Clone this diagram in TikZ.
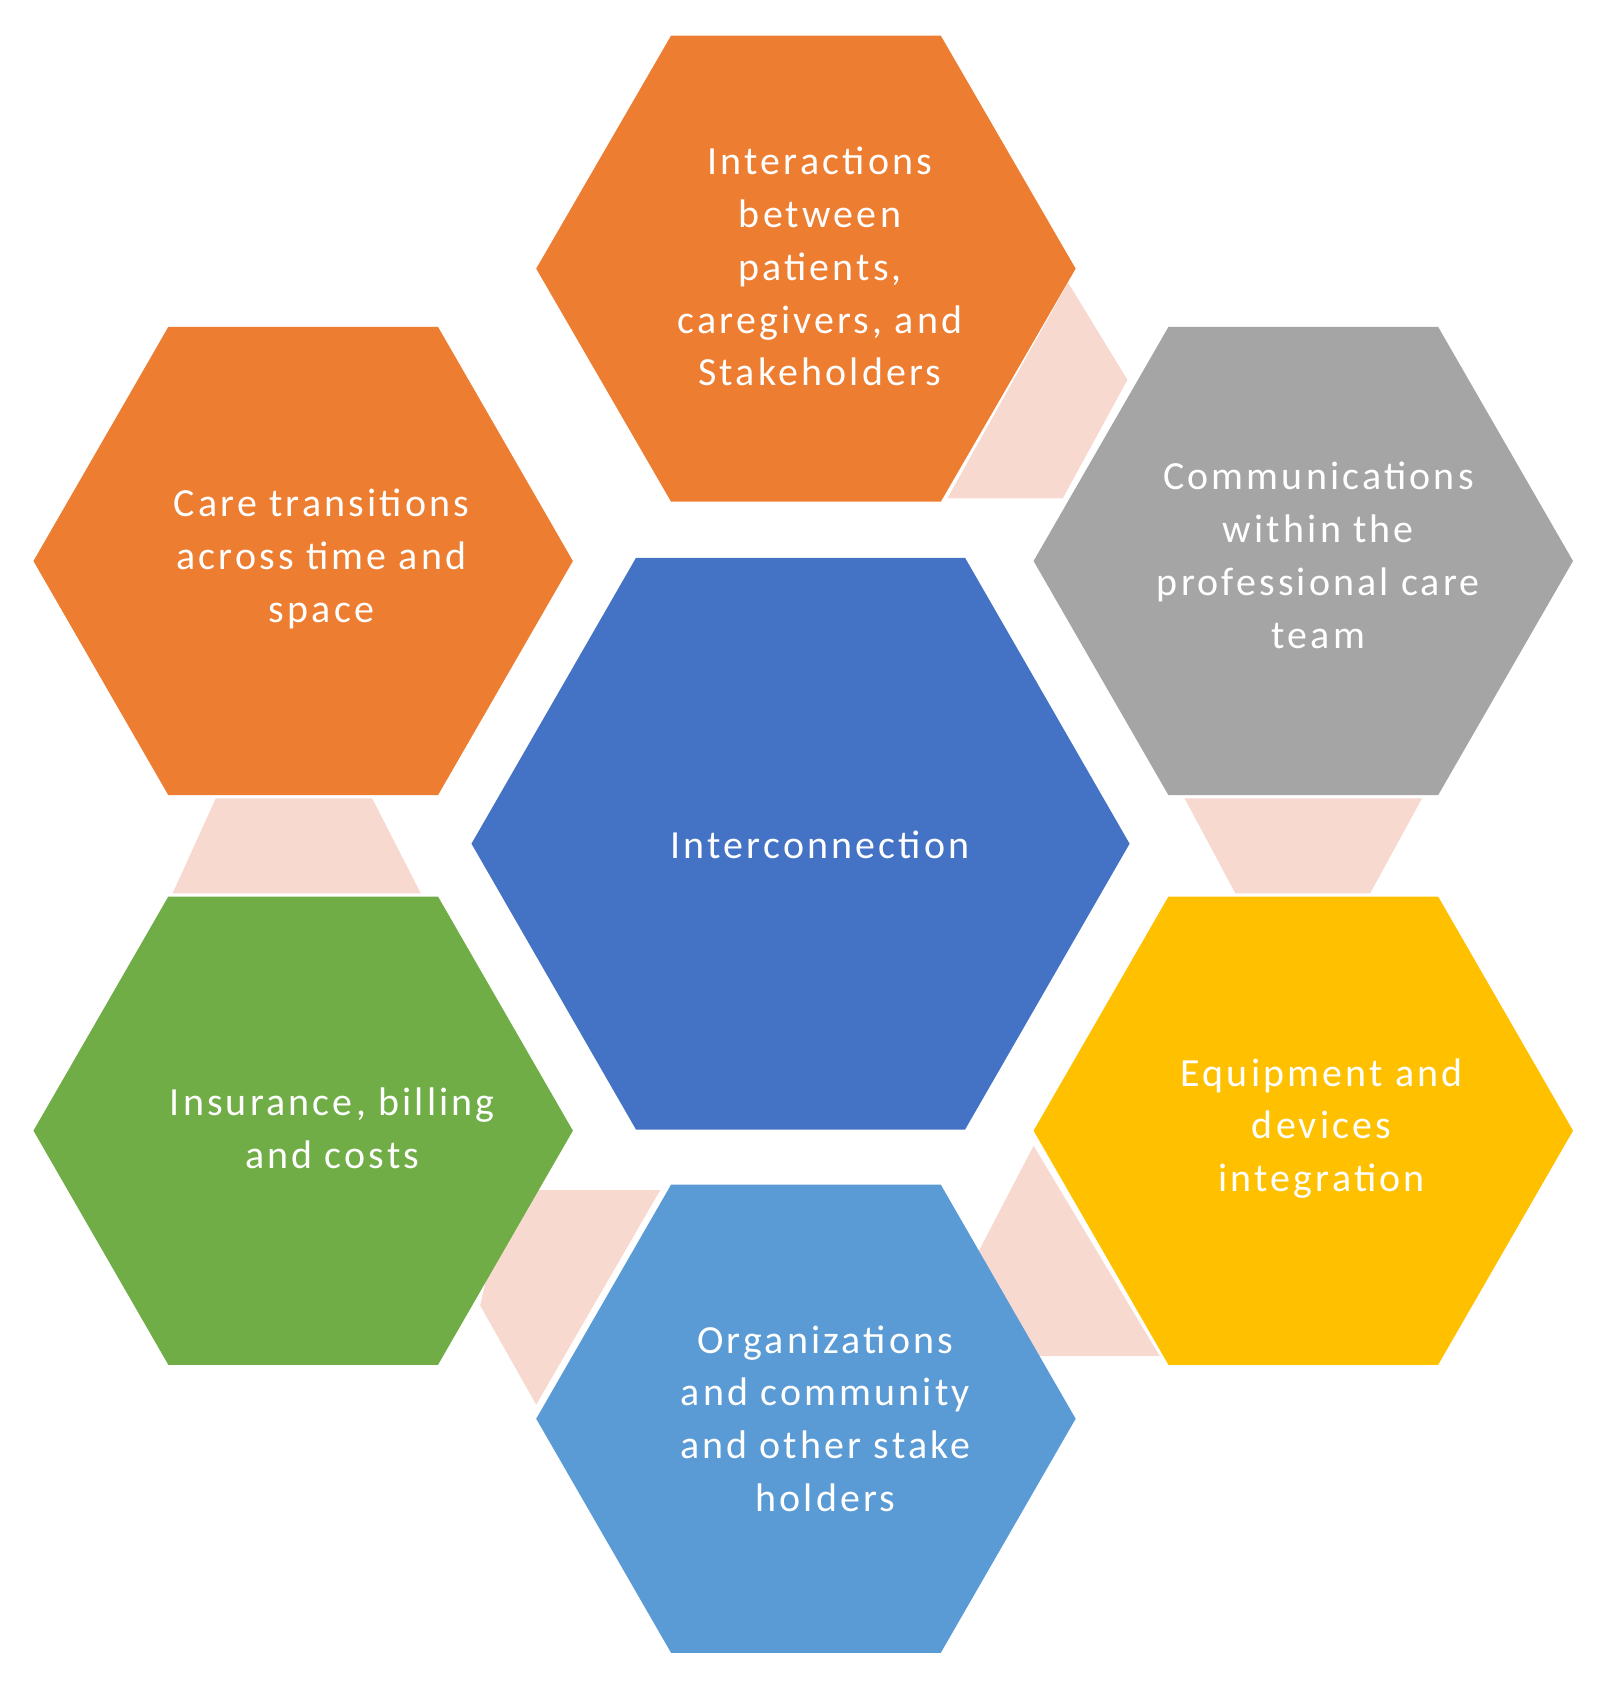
\documentclass[tikz,border=0pt]{standalone}
\usepackage{fontspec}
\setmainfont[LetterSpace=8]{Carlito}
\begin{document}
\begin{tikzpicture}[x=1pt,y=-1pt,
  lbl/.style={text=white,align=center,font=\fontsize{37}{49}\selectfont},
  link/.style={fill=pinkc}]
\definecolor{orangec}{HTML}{ED7D31}
\definecolor{grayc}{HTML}{A5A5A5}
\definecolor{bluec}{HTML}{4472C4}
\definecolor{yellowc}{HTML}{FFC000}
\definecolor{greenc}{HTML}{70AD47}
\definecolor{lbluec}{HTML}{5B9BD5}
\definecolor{pinkc}{HTML}{F8D9CF}
\useasboundingbox (0,0) rectangle (1490,1572);
\newcommand{\hexa}[5]{\fill[#5] ({#1-#3},#2) -- ({#1-#3/2},{#2-#4}) -- ({#1+#3/2},{#2-#4}) -- ({#1+#3},#2) -- ({#1+#3/2},{#2+#4}) -- ({#1-#3/2},{#2+#4}) -- cycle;}
% links
\fill[link] (990,262) -- (1045,352) -- (985,462) -- (878,462) -- cycle;
\fill[link] (1098,740) -- (1318,740) -- (1270,828) -- (1145,828) -- cycle;
\fill[link] (200,740) -- (345,740) -- (390,828) -- (160,828) -- cycle;
\fill[link] (470,1103) -- (612,1103) -- (497,1302) -- (445,1210) -- cycle;
\fill[link] (958,1062) -- (1075,1257) -- (962,1257) -- (907,1160) -- cycle;
% hexagons
\hexa{747}{249}{250}{216}{orangec}
\hexa{281}{520}{250}{217}{orangec}
\hexa{1208}{520}{250}{217}{grayc}
\hexa{742}{782}{305}{265}{bluec}
\hexa{281}{1048}{250}{217}{greenc}
\hexa{1208}{1048}{250}{217}{yellowc}
\hexa{747}{1315}{250}{217}{lbluec}
% labels
\node[lbl] (t) at (760,247) {Interactions\\between\\patients,\\caregivers, and\\Stakeholders};
\node[lbl] (l) at (298,518) {Care transitions\\across time and\\space};
\node[lbl] (r) at (1222,515) {Communications\\within the\\professional care\\team};
\node[lbl] (c) at (760,783) {Interconnection};
\node[lbl] (lb) at (308,1046) {Insurance, billing\\and costs};
\node[lbl] (rb) at (1225,1046) {Equipment and\\devices\\integration};
\node[lbl] (b) at (765,1315) {Organizations\\and community\\and other stake\\holders};
\end{tikzpicture}
\end{document}
